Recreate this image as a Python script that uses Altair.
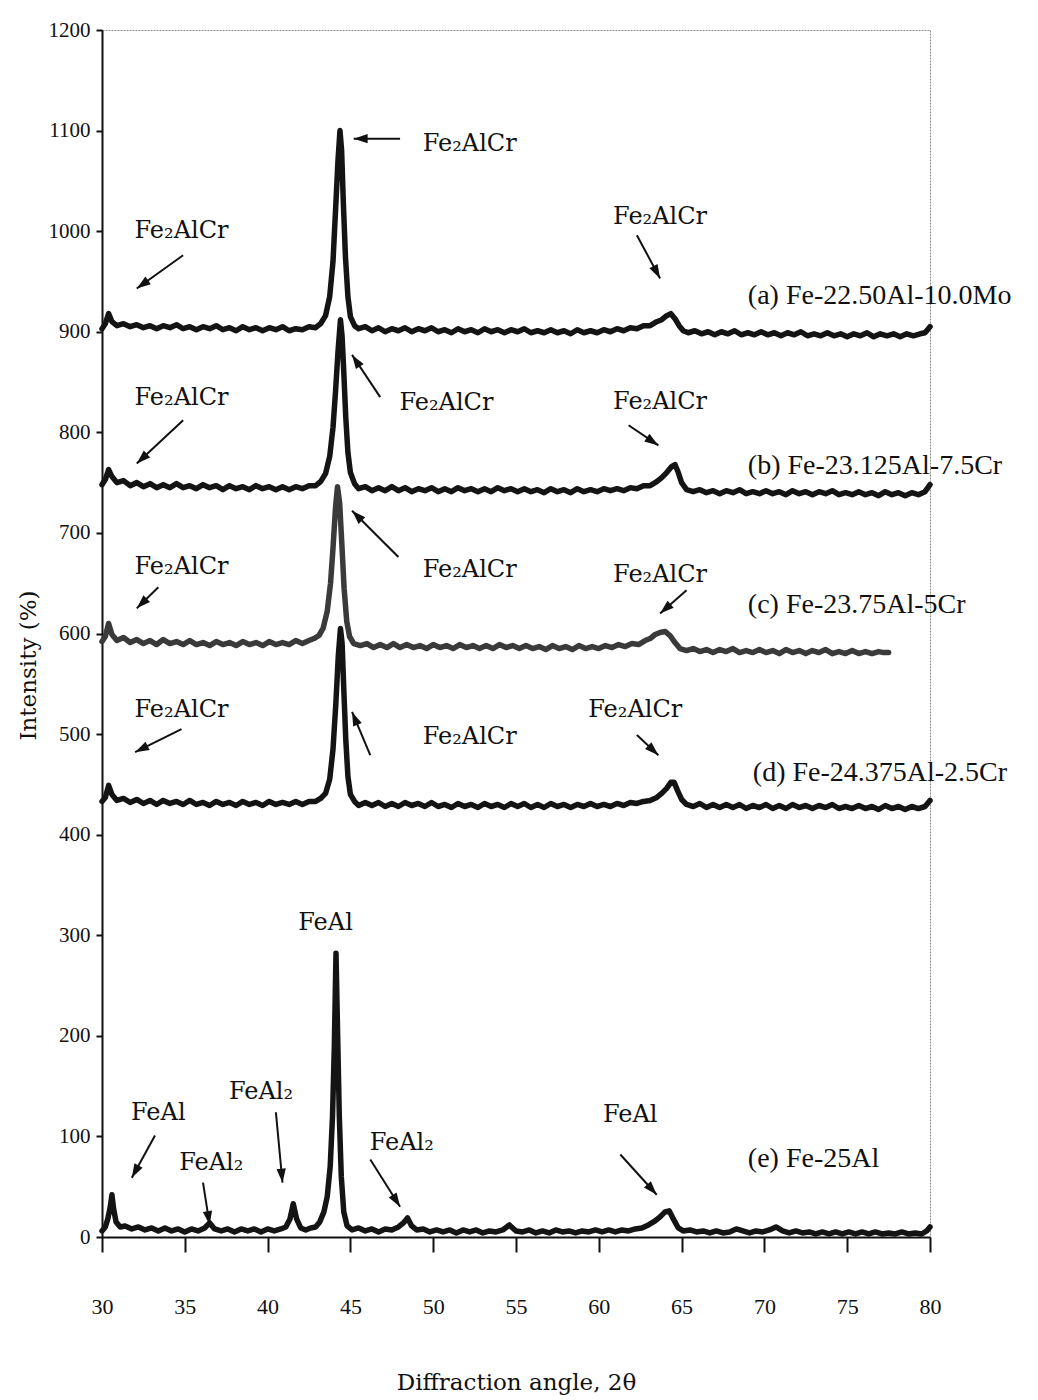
import math
import altair as alt
import pandas as pd

# ---------------- data ----------------
series_names = ["a", "b", "c", "d", "e"]

series_a = [(30.0, 903), (30.2, 908), (30.4, 918), (30.6, 910), (30.9, 906), (31.3, 908), (31.7, 905), (32.1, 907),
            (32.5, 904), (32.9, 906), (33.3, 903), (33.7, 906), (34.1, 904), (34.5, 907), (34.9, 903), (35.3, 905),
            (35.7, 902), (36.1, 905), (36.5, 903), (36.9, 906), (37.3, 902), (37.7, 904), (38.1, 901), (38.5, 905),
            (38.9, 902), (39.3, 904), (39.7, 901), (40.1, 904), (40.5, 902), (40.9, 905), (41.3, 901), (41.7, 903),
            (42.1, 902), (42.5, 905), (42.9, 904), (43.2, 908), (43.5, 916), (43.75, 935), (43.95, 970), (44.1, 1020),
            (44.25, 1070), (44.37, 1100), (44.47, 1080), (44.57, 1030), (44.7, 975), (44.85, 935), (45.0, 915),
            (45.25, 906), (45.5, 903), (45.9, 905), (46.3, 901), (46.7, 904), (47.1, 900), (47.5, 903), (47.9, 901),
            (48.3, 904), (48.7, 900), (49.1, 903), (49.5, 901), (49.9, 904), (50.3, 900), (50.7, 902), (51.1, 899),
            (51.5, 903), (51.9, 900), (52.3, 902), (52.7, 899), (53.1, 903), (53.5, 900), (53.9, 902), (54.3, 899),
            (54.7, 902), (55.1, 900), (55.5, 903), (55.9, 899), (56.3, 901), (56.7, 899), (57.1, 902), (57.5, 899),
            (57.9, 901), (58.3, 898), (58.7, 902), (59.1, 899), (59.5, 901), (59.9, 899), (60.3, 902), (60.7, 900),
            (61.1, 903), (61.5, 901), (61.9, 904), (62.3, 903), (62.7, 906), (63.1, 906), (63.5, 910), (63.8, 912),
            (64.1, 916), (64.35, 918), (64.6, 913), (64.85, 906), (65.1, 901), (65.4, 899), (65.8, 901), (66.2, 898),
            (66.6, 900), (67.0, 897), (67.4, 900), (67.8, 898), (68.2, 901), (68.6, 897), (69.0, 899), (69.4, 897),
            (69.8, 900), (70.2, 897), (70.6, 899), (71.0, 896), (71.4, 899), (71.8, 897), (72.2, 900), (72.6, 896),
            (73.0, 898), (73.4, 896), (73.8, 899), (74.2, 896), (74.6, 898), (75.0, 895), (75.4, 898), (75.8, 896),
            (76.2, 899), (76.6, 895), (77.0, 898), (77.4, 896), (77.8, 898), (78.2, 895), (78.6, 898), (79.0, 896),
            (79.4, 898), (79.7, 899), (80.0, 905)]

series_b = [(30.0, 748), (30.2, 753), (30.4, 763), (30.6, 756), (30.9, 750), (31.3, 752), (31.7, 747), (32.1, 750),
            (32.5, 746), (32.9, 749), (33.3, 745), (33.7, 748), (34.1, 745), (34.5, 749), (34.9, 745), (35.3, 747),
            (35.7, 744), (36.1, 748), (36.5, 745), (36.9, 747), (37.3, 743), (37.7, 747), (38.1, 744), (38.5, 746),
            (38.9, 743), (39.3, 747), (39.7, 744), (40.1, 746), (40.5, 743), (40.9, 746), (41.3, 743), (41.7, 746),
            (42.1, 744), (42.5, 747), (42.9, 747), (43.2, 751), (43.5, 759), (43.75, 776), (43.95, 805), (44.1, 840),
            (44.25, 880), (44.4, 912), (44.5, 895), (44.6, 860), (44.72, 815), (44.85, 780), (45.0, 760), (45.25, 749),
            (45.5, 744), (45.9, 746), (46.3, 742), (46.7, 745), (47.1, 742), (47.5, 746), (47.9, 742), (48.3, 745),
            (48.7, 741), (49.1, 744), (49.5, 742), (49.9, 745), (50.3, 741), (50.7, 744), (51.1, 741), (51.5, 745),
            (51.9, 742), (52.3, 744), (52.7, 741), (53.1, 744), (53.5, 741), (53.9, 745), (54.3, 742), (54.7, 744),
            (55.1, 741), (55.5, 744), (55.9, 741), (56.3, 743), (56.7, 740), (57.1, 744), (57.5, 741), (57.9, 743),
            (58.3, 740), (58.7, 744), (59.1, 741), (59.5, 743), (59.9, 741), (60.3, 744), (60.7, 742), (61.1, 744),
            (61.5, 742), (61.9, 745), (62.3, 744), (62.7, 747), (63.1, 747), (63.5, 751), (63.8, 755), (64.1, 760),
            (64.4, 766), (64.6, 768), (64.8, 760), (65.0, 750), (65.3, 743), (65.7, 741), (66.1, 743), (66.5, 740),
            (66.9, 742), (67.3, 739), (67.7, 742), (68.1, 740), (68.5, 743), (68.9, 739), (69.3, 741), (69.7, 739),
            (70.1, 742), (70.5, 739), (70.9, 741), (71.3, 738), (71.7, 742), (72.1, 739), (72.5, 741), (72.9, 738),
            (73.3, 741), (73.7, 739), (74.1, 742), (74.5, 738), (74.9, 740), (75.3, 738), (75.7, 741), (76.1, 738),
            (76.5, 740), (76.9, 737), (77.3, 741), (77.7, 738), (78.1, 740), (78.5, 737), (78.9, 740), (79.3, 738),
            (79.7, 741), (80.0, 748)]

series_c = [(30.0, 592), (30.2, 597), (30.4, 610), (30.6, 599), (30.9, 593), (31.3, 596), (31.7, 591), (32.1, 594),
            (32.5, 590), (32.9, 593), (33.3, 589), (33.7, 594), (34.1, 590), (34.5, 592), (34.9, 589), (35.3, 593),
            (35.7, 589), (36.1, 591), (36.5, 588), (36.9, 592), (37.3, 589), (37.7, 591), (38.1, 588), (38.5, 592),
            (38.9, 589), (39.3, 591), (39.7, 588), (40.1, 592), (40.5, 589), (40.9, 591), (41.3, 589), (41.7, 593),
            (42.1, 590), (42.5, 593), (42.8, 595), (43.1, 598), (43.35, 605), (43.6, 622), (43.8, 650), (43.95, 685),
            (44.1, 725), (44.22, 746), (44.35, 730), (44.48, 690), (44.62, 645), (44.78, 612), (44.95, 597), (45.2, 590),
            (45.6, 588), (46.0, 590), (46.4, 586), (46.8, 589), (47.2, 586), (47.6, 590), (48.0, 586), (48.4, 589),
            (48.8, 586), (49.2, 588), (49.6, 585), (50.0, 589), (50.4, 586), (50.8, 588), (51.2, 585), (51.6, 589),
            (52.0, 586), (52.4, 588), (52.8, 585), (53.2, 588), (53.6, 585), (54.0, 589), (54.4, 586), (54.8, 588),
            (55.2, 585), (55.6, 588), (56.0, 585), (56.4, 587), (56.8, 584), (57.2, 588), (57.6, 585), (58.0, 587),
            (58.4, 584), (58.8, 588), (59.2, 585), (59.6, 587), (60.0, 585), (60.4, 588), (60.8, 586), (61.2, 589),
            (61.6, 587), (62.0, 590), (62.4, 589), (62.8, 593), (63.1, 595), (63.4, 599), (63.7, 601), (64.0, 602),
            (64.3, 598), (64.6, 591), (64.9, 585), (65.3, 583), (65.7, 585), (66.1, 582), (66.5, 584), (66.9, 581),
            (67.3, 584), (67.7, 582), (68.1, 585), (68.5, 581), (68.9, 583), (69.3, 581), (69.7, 584), (70.1, 581),
            (70.5, 583), (70.9, 580), (71.3, 584), (71.7, 581), (72.1, 583), (72.5, 580), (72.9, 583), (73.3, 581),
            (73.7, 584), (74.1, 580), (74.5, 582), (74.9, 580), (75.3, 583), (75.7, 580), (76.1, 582), (76.5, 580),
            (76.9, 582), (77.2, 581), (77.5, 581)]

series_d = [(30.0, 433), (30.2, 437), (30.4, 449), (30.6, 440), (30.9, 434), (31.3, 436), (31.7, 432), (32.1, 435),
            (32.5, 431), (32.9, 434), (33.3, 430), (33.7, 434), (34.1, 431), (34.5, 433), (34.9, 430), (35.3, 434),
            (35.7, 430), (36.1, 432), (36.5, 429), (36.9, 433), (37.3, 430), (37.7, 432), (38.1, 429), (38.5, 433),
            (38.9, 430), (39.3, 432), (39.7, 429), (40.1, 433), (40.5, 430), (40.9, 432), (41.3, 430), (41.7, 433),
            (42.1, 430), (42.5, 433), (42.9, 433), (43.2, 436), (43.5, 441), (43.75, 455), (43.95, 485), (44.12, 530),
            (44.27, 578), (44.4, 605), (44.5, 590), (44.6, 545), (44.72, 495), (44.85, 458), (45.0, 440), (45.25, 433),
            (45.5, 429), (45.9, 432), (46.3, 429), (46.7, 432), (47.1, 428), (47.5, 431), (47.9, 428), (48.3, 432),
            (48.7, 429), (49.1, 431), (49.5, 428), (49.9, 432), (50.3, 428), (50.7, 430), (51.1, 427), (51.5, 431),
            (51.9, 428), (52.3, 430), (52.7, 427), (53.1, 431), (53.5, 428), (53.9, 430), (54.3, 427), (54.7, 431),
            (55.1, 428), (55.5, 431), (55.9, 427), (56.3, 430), (56.7, 427), (57.1, 431), (57.5, 428), (57.9, 430),
            (58.3, 427), (58.7, 430), (59.1, 428), (59.5, 431), (59.9, 428), (60.3, 430), (60.7, 428), (61.1, 431),
            (61.5, 429), (61.9, 432), (62.3, 431), (62.7, 433), (63.1, 434), (63.5, 437), (63.8, 441), (64.1, 446),
            (64.35, 452), (64.55, 452), (64.75, 444), (65.0, 435), (65.3, 430), (65.7, 428), (66.1, 431), (66.5, 427),
            (66.9, 430), (67.3, 427), (67.7, 430), (68.1, 427), (68.5, 430), (68.9, 426), (69.3, 429), (69.7, 427),
            (70.1, 430), (70.5, 426), (70.9, 429), (71.3, 426), (71.7, 430), (72.1, 427), (72.5, 429), (72.9, 426),
            (73.3, 429), (73.7, 427), (74.1, 430), (74.5, 426), (74.9, 428), (75.3, 426), (75.7, 429), (76.1, 426),
            (76.5, 428), (76.9, 425), (77.3, 429), (77.7, 426), (78.1, 428), (78.5, 425), (78.9, 428), (79.3, 426),
            (79.7, 428), (80.0, 434)]

series_e = [(30.0, 6), (30.2, 10), (30.35, 18), (30.5, 30), (30.6, 42), (30.7, 28), (30.85, 15), (31.1, 10),
            (31.4, 11), (31.8, 8), (32.2, 10), (32.6, 7), (33.0, 9), (33.4, 6), (33.8, 9), (34.2, 6), (34.6, 8),
            (35.0, 5), (35.4, 8), (35.8, 6), (36.2, 9), (36.5, 14), (36.8, 8), (37.2, 6), (37.6, 8), (38.0, 5),
            (38.4, 8), (38.8, 6), (39.2, 8), (39.6, 5), (40.0, 8), (40.4, 6), (40.8, 8), (41.1, 10), (41.35, 18),
            (41.55, 33), (41.75, 18), (42.0, 9), (42.3, 7), (42.6, 9), (42.9, 10), (43.15, 15), (43.4, 25), (43.6, 40),
            (43.78, 70), (43.92, 120), (44.03, 190), (44.13, 282), (44.23, 200), (44.33, 120), (44.45, 60), (44.6, 25),
            (44.8, 11), (45.1, 7), (45.5, 9), (45.9, 6), (46.3, 8), (46.7, 5), (47.1, 8), (47.5, 7), (47.9, 10),
            (48.2, 14), (48.45, 19), (48.7, 11), (49.0, 7), (49.4, 8), (49.8, 5), (50.2, 7), (50.6, 5), (51.0, 7),
            (51.4, 4), (51.8, 7), (52.2, 5), (52.6, 7), (53.0, 4), (53.4, 6), (53.8, 5), (54.2, 7), (54.6, 12),
            (55.0, 6), (55.4, 5), (55.8, 7), (56.2, 4), (56.6, 6), (57.0, 4), (57.4, 7), (57.8, 5), (58.2, 6),
            (58.6, 4), (59.0, 6), (59.4, 5), (59.8, 7), (60.2, 5), (60.6, 7), (61.0, 5), (61.4, 7), (61.8, 6),
            (62.2, 8), (62.6, 9), (63.0, 12), (63.4, 16), (63.7, 20), (64.0, 25), (64.25, 26), (64.5, 18), (64.8, 9),
            (65.1, 6), (65.5, 7), (65.9, 5), (66.3, 6), (66.7, 4), (67.1, 6), (67.5, 4), (67.9, 5), (68.3, 8),
            (68.7, 6), (69.1, 4), (69.5, 6), (69.9, 5), (70.3, 7), (70.7, 10), (71.1, 6), (71.5, 4), (71.9, 6),
            (72.3, 4), (72.7, 5), (73.1, 3), (73.5, 5), (73.9, 3), (74.3, 5), (74.7, 3), (75.1, 5), (75.5, 3),
            (75.9, 5), (76.3, 3), (76.7, 5), (77.1, 3), (77.5, 4), (77.9, 3), (78.3, 5), (78.7, 3), (79.1, 4),
            (79.5, 3), (79.8, 6), (80.0, 10)]

series_colors = ["#141414", "#141414", "#3a3a3a", "#141414", "#141414"]

x_ticks = [30, 35, 40, 45, 50, 55, 60, 65, 70, 75, 80]
y_ticks = [0, 100, 200, 300, 400, 500, 600, 700, 800, 900, 1000, 1100, 1200]

# sample labels
sample_text = ["(a) Fe-22.50Al-10.0Mo", "(b) Fe-23.125Al-7.5Cr", "(c) Fe-23.75Al-5Cr",
               "(d) Fe-24.375Al-2.5Cr", "(e) Fe-25Al"]
sample_x = [69.0, 69.0, 69.0, 69.3, 69.0]
sample_y = [936, 767, 628, 461, 78]

# phase labels
phase_text = ["Fe₂AlCr", "Fe₂AlCr", "Fe₂AlCr",
              "Fe₂AlCr", "Fe₂AlCr", "Fe₂AlCr",
              "Fe₂AlCr", "Fe₂AlCr", "Fe₂AlCr",
              "Fe₂AlCr", "Fe₂AlCr", "Fe₂AlCr",
              "FeAl", "FeAl₂", "FeAl₂", "FeAl", "FeAl₂", "FeAl"]
phase_x = [34.8, 52.2, 63.7,
           34.8, 50.8, 63.7,
           34.8, 52.2, 63.7,
           34.8, 52.2, 62.2,
           33.4, 36.6, 39.6, 43.5, 48.1, 61.9]
phase_y = [1000, 1087, 1014,
           834, 829, 830,
           666, 663, 658,
           524, 497, 524,
           123, 74, 144, 312, 93, 121]

# arrows (start -> tip), data units
arrow_x1 = [34.9, 48.0, 62.3, 34.9, 46.8, 61.8, 33.4, 47.9, 65.3, 34.8, 46.2, 62.3, 33.2, 36.1, 40.5, 46.2, 61.3]
arrow_y1 = [976, 1092, 996, 812, 835, 807, 646, 676, 643, 505, 479, 499, 101, 54, 124, 77, 82]
arrow_x2 = [32.1, 45.2, 63.7, 32.1, 45.1, 63.6, 32.1, 45.1, 63.7, 32.0, 45.1, 63.6, 31.8, 36.5, 40.9, 48.0, 63.5]
arrow_y2 = [943, 1092, 953, 769, 877, 787, 625, 722, 620, 482, 522, 479, 59, 12, 54, 30, 42]

# ---------------- build ----------------
W, H = 828, 1207
PX_X = W / 50.0
PX_Y = H / 1200.0

rows = []
for name, pts in zip(series_names, [series_a, series_b, series_c, series_d, series_e]):
    for i, (x, y) in enumerate(pts):
        rows.append({"series": name, "theta": x, "intensity": y, "order": i})
df = pd.DataFrame(rows)

arr_rows = []
for x1, y1, x2, y2 in zip(arrow_x1, arrow_y1, arrow_x2, arrow_y2):
    dx = (x2 - x1) * PX_X
    dy = -(y2 - y1) * PX_Y
    ang = math.degrees(math.atan2(dx, -dy)) % 360
    arr_rows.append({"x1": x1, "y1": y1, "x2": x2, "y2": y2, "rot": ang})
df_arr = pd.DataFrame(arr_rows)

df_phase = pd.DataFrame({"t": phase_text, "x": phase_x, "y": phase_y})
df_sample = pd.DataFrame({"t": sample_text, "x": sample_x, "y": sample_y})

xs = alt.Scale(domain=[30, 80], nice=False, zero=False)
ys = alt.Scale(domain=[0, 1200], nice=False, zero=False)

x_axis = alt.Axis(values=x_ticks, format="d", title="Diffraction angle, 2θ", grid=False,
                  labelFont="Liberation Serif", labelFontSize=22, labelColor="#111", labelFlush=False,
                  labelPadding=44, tickSize=15, tickWidth=2, tickColor="#111",
                  domainColor="#111", domainWidth=2,
                  titleFont="DejaVu Serif", titleFontSize=23, titleFontWeight="normal",
                  titleColor="#111", titleY=152, titleBaseline="alphabetic")
y_axis = alt.Axis(values=y_ticks, format="d", title="Intensity (%)", grid=False,
                  labelFont="Liberation Serif", labelFontSize=21, labelColor="#111", labelFlush=False,
                  labelPadding=6, tickSize=6, tickWidth=2, tickColor="#111",
                  domainColor="#111", domainWidth=2,
                  titleFont="DejaVu Serif", titleFontSize=23, titleFontWeight="normal",
                  titleColor="#111", titleAngle=270, titleX=-74, titleY=635,
                  titleAlign="center", titleBaseline="middle")

lines = alt.Chart(df).mark_line(strokeWidth=5.5, strokeCap="round", strokeJoin="round").encode(
    x=alt.X("theta:Q", scale=xs, axis=x_axis),
    y=alt.Y("intensity:Q", scale=ys, axis=y_axis),
    detail="series:N",
    order="order:Q",
    color=alt.Color("series:N", scale=alt.Scale(domain=series_names, range=series_colors), legend=None),
)

arrow_lines = alt.Chart(df_arr).mark_rule(strokeWidth=2, color="#111").encode(
    x=alt.X("x1:Q", scale=xs, axis=x_axis),
    y=alt.Y("y1:Q", scale=ys, axis=y_axis),
    x2="x2:Q",
    y2="y2:Q",
)

arrow_heads = alt.Chart(df_arr).mark_point(
    shape="M0,0L0.6,1.8L-0.6,1.8Z", filled=True, size=240, color="#111", opacity=1
).encode(
    x=alt.X("x2:Q", scale=xs, axis=x_axis),
    y=alt.Y("y2:Q", scale=ys, axis=y_axis),
    angle=alt.Angle("rot:Q", scale=None),
)

phase_labels = alt.Chart(df_phase).mark_text(
    font="DejaVu Serif", fontSize=24, align="center", baseline="middle", color="#111"
).encode(
    x=alt.X("x:Q", scale=xs, axis=x_axis),
    y=alt.Y("y:Q", scale=ys, axis=y_axis),
    text="t:N",
)

sample_labels = alt.Chart(df_sample).mark_text(
    font="Liberation Serif", fontSize=28, align="left", baseline="middle", color="#111"
).encode(
    x=alt.X("x:Q", scale=xs, axis=x_axis),
    y=alt.Y("y:Q", scale=ys, axis=y_axis),
    text="t:N",
)

chart = alt.layer(lines, arrow_lines, arrow_heads, phase_labels, sample_labels).properties(
    width=W, height=H,
    autosize=alt.AutoSizeParams(type="none"),
    padding={"left": 102, "top": 30, "right": 108, "bottom": 163},
    background="white",
).configure_view(stroke="#8a8a8a", strokeWidth=1, strokeDash=[2, 1])

chart.save("out.html", embed_options={"renderer": "svg", "actions": False})
